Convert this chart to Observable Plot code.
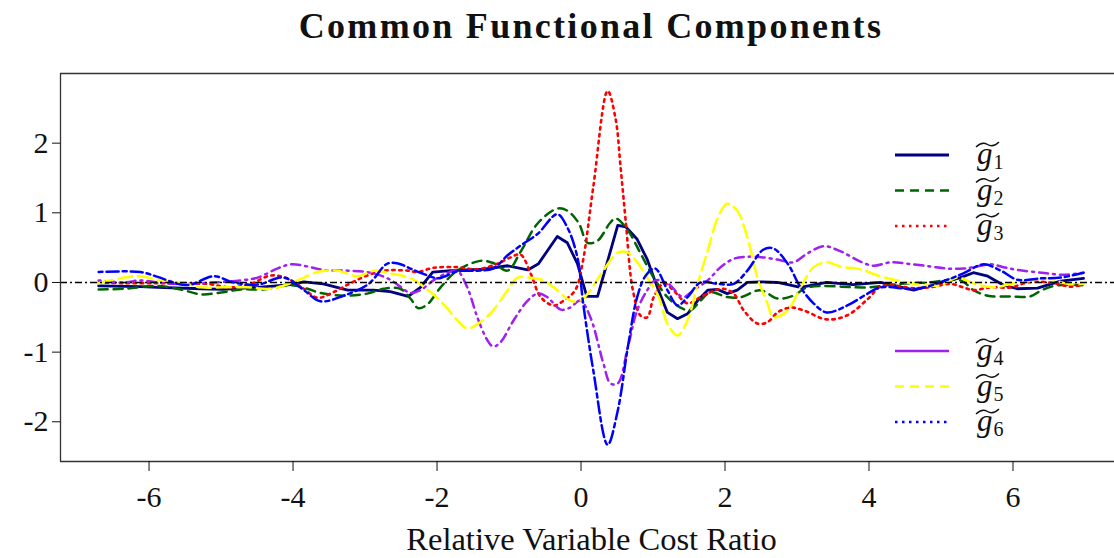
<!DOCTYPE html>
<html><head><meta charset="utf-8">
<script src="https://cdn.jsdelivr.net/npm/d3@7"></script>
<script src="https://cdn.jsdelivr.net/npm/@observablehq/plot@0.6"></script>
<style>
body{margin:0;background:#fff;}
#wrap{position:relative;width:1114px;height:558px;overflow:hidden;font-family:"Liberation Serif",serif;color:#111;}
#title{height:58px;line-height:52px;text-align:center;font-weight:bold;font-size:36px;letter-spacing:2.3px;padding-left:68px;box-sizing:border-box;width:1114px;}
#legend{position:absolute;left:0;top:0;pointer-events:none;}
</style>
</head><body>
<div id="wrap"><div id="title">Common Functional Components</div><div id="chart"></div></div>
<script>
const titleText = "Common Functional Components";
const xLabel = "Relative Variable Cost Ratio";
const xTicks = [-6,-4,-2,0,2,4,6];
const yTicks = [-2,-1,0,1,2];
const xDomain = [-7.23, 7.41];
const yDomain = [-2.57, 3.0];
const seriesNames = ["g1","g2","g3","g4","g5","g6"];
const subscripts = ["1","2","3","4","5","6"];
const colors = ["#000080","#006400","#ff0000","#a020f0","#ffff00","#0000ff"];

const g1 = [[-6.70,-0.05],[-6.12,-0.06],[-5.88,-0.07],[-5.28,-0.09],[-4.97,-0.10],[-4.49,-0.07],[-4.03,-0.03],[-3.85,0.01],[-3.58,-0.02],[-3.24,-0.11],[-2.88,-0.11],[-2.65,-0.13],[-2.40,-0.20],[-2.23,-0.07],[-2.06,0.15],[-1.81,0.17],[-1.35,0.19],[-1.02,0.24],[-0.74,0.18],[-0.59,0.27],[-0.33,0.66],[-0.19,0.57],[-0.05,0.27],[0.08,-0.20],[0.23,-0.20],[0.51,0.82],[0.62,0.80],[0.78,0.62],[0.92,0.33],[1.06,-0.07],[1.20,-0.43],[1.34,-0.52],[1.48,-0.45],[1.62,-0.26],[1.76,-0.11],[1.90,-0.10],[2.03,-0.16],[2.17,-0.11],[2.31,0.00],[2.49,0.01],[2.73,0.00],[3.05,-0.07],[3.41,0.00],[3.78,-0.03],[4.16,0.00],[4.62,-0.11],[4.99,-0.01],[5.27,0.07],[5.45,0.14],[5.65,0.09],[5.87,-0.04],[6.06,-0.09],[6.34,-0.08],[6.66,0.02],[6.98,0.06]];
const g2 = [[-6.70,-0.10],[-6.35,-0.09],[-5.88,-0.05],[-5.56,-0.10],[-5.28,-0.17],[-4.97,-0.14],[-4.73,-0.10],[-4.41,-0.10],[-4.03,-0.04],[-3.80,-0.09],[-3.62,-0.15],[-3.30,-0.19],[-2.97,-0.16],[-2.74,-0.09],[-2.51,-0.09],[-2.37,-0.23],[-2.26,-0.37],[-2.13,-0.31],[-1.95,-0.07],[-1.72,0.17],[-1.40,0.31],[-1.22,0.28],[-1.02,0.17],[-0.84,0.44],[-0.60,0.85],[-0.33,1.06],[-0.19,1.03],[-0.03,0.85],[0.09,0.57],[0.23,0.60],[0.40,0.85],[0.48,0.92],[0.65,0.75],[0.83,0.41],[1.01,0.07],[1.20,-0.21],[1.38,-0.36],[1.52,-0.40],[1.66,-0.26],[1.80,-0.14],[2.03,-0.21],[2.22,-0.21],[2.49,-0.11],[2.73,-0.23],[2.95,-0.19],[3.15,-0.07],[3.98,-0.07],[4.44,-0.02],[4.81,0.00],[5.27,0.03],[5.45,-0.11],[5.65,-0.19],[5.97,-0.20],[6.24,-0.20],[6.40,-0.11],[6.62,-0.04],[6.98,-0.04]];
const g3 = [[-6.70,0.00],[-6.35,-0.01],[-5.88,-0.01],[-5.52,-0.02],[-5.19,-0.02],[-4.87,-0.07],[-4.59,-0.02],[-4.31,0.10],[-4.08,0.06],[-3.85,-0.09],[-3.66,-0.22],[-3.44,-0.14],[-3.20,-0.01],[-2.97,0.10],[-2.74,0.17],[-2.41,0.17],[-2.27,0.15],[-2.05,0.21],[-1.72,0.22],[-1.44,0.19],[-1.16,0.27],[-0.98,0.36],[-0.84,0.40],[-0.70,0.13],[-0.56,-0.21],[-0.38,-0.33],[-0.24,-0.26],[-0.08,-0.11],[0.02,0.27],[0.17,1.37],[0.37,2.75],[0.48,2.35],[0.55,1.65],[0.62,0.89],[0.72,-0.11],[0.83,-0.48],[0.92,-0.50],[1.01,-0.21],[1.15,-0.01],[1.28,-0.11],[1.48,-0.30],[1.66,-0.21],[1.84,-0.12],[1.98,-0.09],[2.12,-0.16],[2.26,-0.40],[2.45,-0.59],[2.59,-0.57],[2.73,-0.43],[2.91,-0.36],[3.09,-0.40],[3.41,-0.53],[3.70,-0.47],[3.98,-0.24],[4.16,-0.06],[4.34,-0.04],[4.58,-0.08],[4.85,-0.07],[5.13,-0.02],[5.31,-0.07],[5.45,-0.11],[5.69,-0.07],[5.97,-0.07],[6.20,0.00],[6.40,0.01],[6.62,-0.02],[6.80,-0.06],[6.98,-0.03]];
const g4 = [[-6.70,0.03],[-6.35,0.00],[-6.12,0.03],[-5.88,0.00],[-5.66,-0.02],[-5.42,-0.02],[-5.10,0.00],[-4.73,0.03],[-4.49,0.07],[-4.22,0.20],[-4.03,0.26],[-3.80,0.23],[-3.58,0.18],[-3.24,0.17],[-2.92,0.14],[-2.67,0.05],[-2.51,-0.06],[-2.37,-0.15],[-2.23,-0.11],[-2.05,0.03],[-1.85,0.14],[-1.72,0.17],[-1.58,-0.07],[-1.44,-0.50],[-1.30,-0.83],[-1.22,-0.92],[-1.12,-0.86],[-0.94,-0.55],[-0.74,-0.26],[-0.60,-0.16],[-0.47,-0.21],[-0.28,-0.39],[-0.15,-0.36],[-0.01,-0.26],[0.13,-0.50],[0.31,-1.16],[0.41,-1.45],[0.51,-1.45],[0.65,-0.93],[0.78,-0.40],[0.92,-0.11],[1.03,0.03],[1.20,-0.01],[1.42,-0.21],[1.56,-0.11],[1.76,0.03],[1.94,0.22],[2.12,0.34],[2.31,0.37],[2.53,0.36],[2.77,0.32],[2.95,0.29],[3.15,0.42],[3.37,0.52],[3.60,0.45],[3.88,0.30],[4.06,0.24],[4.30,0.29],[4.53,0.27],[4.85,0.23],[5.09,0.20],[5.31,0.20],[5.45,0.22],[5.69,0.26],[5.87,0.22],[6.06,0.18],[6.40,0.14],[6.70,0.11],[6.98,0.14]];
const g5 = [[-6.70,-0.01],[-6.35,0.07],[-6.12,0.09],[-5.88,0.04],[-5.56,0.00],[-5.28,-0.07],[-4.97,-0.07],[-4.63,-0.07],[-4.31,-0.09],[-4.03,-0.01],[-3.85,0.07],[-3.66,0.15],[-3.38,0.17],[-3.10,0.09],[-2.88,0.17],[-2.65,0.13],[-2.37,0.06],[-2.09,-0.14],[-1.91,-0.31],[-1.72,-0.54],[-1.58,-0.66],[-1.40,-0.57],[-1.22,-0.40],[-1.02,-0.11],[-0.88,0.07],[-0.66,0.06],[-0.52,0.03],[-0.33,-0.11],[-0.15,-0.26],[-0.01,-0.26],[0.13,-0.11],[0.31,0.17],[0.51,0.43],[0.65,0.43],[0.78,0.29],[0.92,0.07],[1.08,-0.21],[1.20,-0.59],[1.34,-0.76],[1.48,-0.54],[1.62,-0.02],[1.76,0.46],[1.90,0.93],[2.03,1.13],[2.17,1.03],[2.31,0.65],[2.45,0.07],[2.59,-0.30],[2.67,-0.50],[2.87,-0.40],[3.05,-0.07],[3.23,0.22],[3.41,0.29],[3.60,0.23],[3.88,0.19],[4.12,0.10],[4.30,0.05],[4.53,0.00],[4.76,-0.04],[4.99,-0.04],[5.23,0.07],[5.45,-0.01],[5.73,-0.07],[6.01,-0.01],[6.28,0.03],[6.48,0.06],[6.76,-0.02],[6.98,-0.02]];
const g6 = [[-6.70,0.15],[-6.12,0.15],[-5.88,0.08],[-5.56,-0.03],[-5.42,-0.03],[-5.10,0.09],[-4.83,0.00],[-4.49,-0.03],[-4.13,0.07],[-3.85,-0.11],[-3.62,-0.27],[-3.30,-0.19],[-2.95,-0.02],[-2.69,0.27],[-2.53,0.27],[-2.37,0.20],[-2.23,0.14],[-1.99,0.06],[-1.91,0.08],[-1.72,0.16],[-1.44,0.17],[-1.22,0.20],[-1.02,0.39],[-0.84,0.53],[-0.60,0.70],[-0.33,0.98],[-0.19,0.79],[-0.05,0.36],[0.03,-0.30],[0.17,-1.26],[0.37,-2.33],[0.51,-1.84],[0.65,-0.93],[0.78,-0.21],[0.90,0.10],[1.03,0.20],[1.20,-0.11],[1.34,-0.33],[1.48,-0.21],[1.66,0.00],[1.90,-0.02],[2.12,-0.02],[2.31,0.17],[2.53,0.47],[2.67,0.49],[2.87,0.27],[3.05,-0.07],[3.23,-0.30],[3.41,-0.43],[3.70,-0.33],[3.98,-0.16],[4.16,-0.07],[4.67,-0.09],[5.09,0.04],[5.31,0.13],[5.59,0.26],[5.83,0.17],[6.06,0.04],[6.40,0.06],[6.66,0.07],[6.98,0.14]];

const allSeries = [g1,g2,g3,g4,g5,g6];
const dashes = [null, "9,6", "2.5,4.5", "2,5,9,5", "14,6", "4,4,12,4"];
const legendDashes = [null, "9,6", "2.5,4.5", null, "9,6", "2.5,4.5"];
const widths = [2.8, 2.5, 2.6, 2.5, 2.5, 2.5];
const curves = ["linear","catmull-rom","catmull-rom","catmull-rom","catmull-rom","catmull-rom"];

const fmt = d => String(d);
const lineMarks = allSeries.map((s, i) => Plot.line(s.map(([x, y]) => ({x, y, name: seriesNames[i]})), {
  x: "x", y: "y", stroke: colors[i], strokeWidth: widths[i],
  strokeDasharray: dashes[i], curve: curves[i], clip: true
}));

const plot = Plot.plot({
  width: 1114, height: 500,
  marginLeft: 60, marginRight: 0, marginTop: 15, marginBottom: 97,
  style: {fontFamily: "'Liberation Serif', serif", fontSize: "30px", background: "white", color: "#111", overflow: "visible"},
  x: {domain: xDomain},
  y: {domain: yDomain},
  marks: [
    ...lineMarks,
    Plot.ruleY([0], {stroke: "black", strokeWidth: 1.3, strokeDasharray: "7,3,2,3"}),
    Plot.ruleY([yDomain[0], yDomain[1]], {stroke: "#333", strokeWidth: 1.3}),
    Plot.ruleX([xDomain[0]], {stroke: "#333", strokeWidth: 1.3}),
    Plot.axisX({ticks: xTicks, tickSize: 10, tickPadding: 14, tickFormat: fmt, label: null, fontSize: 30}),
    Plot.axisY({ticks: yTicks, tickSize: 8, tickPadding: 4, tickFormat: fmt, label: null, fontSize: 30}),
    Plot.text([xLabel], {frameAnchor: "bottom", dy: 88, dx: 4, fontSize: 32.5, fill: "#111"})
  ]
});
document.getElementById("chart").appendChild(plot);

// legend overlay (inside the plot area, like the reference)
const svg = d3.select("#wrap").append("svg").attr("id", "legend").attr("width", 1114).attr("height", 558);
const rowY = i => (i < 3 ? 155 + i * 35.5 : 351 + (i - 3) * 35.5);
seriesNames.forEach((n, i) => {
  const y = rowY(i);
  svg.append("line").attr("x1", 895).attr("x2", 949).attr("y1", y).attr("y2", y)
    .attr("stroke", colors[i]).attr("stroke-width", widths[i])
    .attr("stroke-dasharray", legendDashes[i]);
  const t = svg.append("text").attr("x", 977).attr("y", y + 9)
    .attr("font-family", "'Liberation Serif', serif").attr("fill", "#111");
  t.append("tspan").attr("font-style", "italic").attr("font-size", 31).text("g");
  t.append("tspan").attr("font-size", 20).attr("dy", 5).attr("dx", 1).text(subscripts[i]);
  // wide tilde accent drawn as a small path above the g
  svg.append("path")
    .attr("d", `M976,${y - 8} Q982,${y - 14} 987.5,${y - 10.5} T999,${y - 13}`)
    .attr("fill", "none").attr("stroke", "#111").attr("stroke-width", 1.4);
});
</script>
</body></html>
